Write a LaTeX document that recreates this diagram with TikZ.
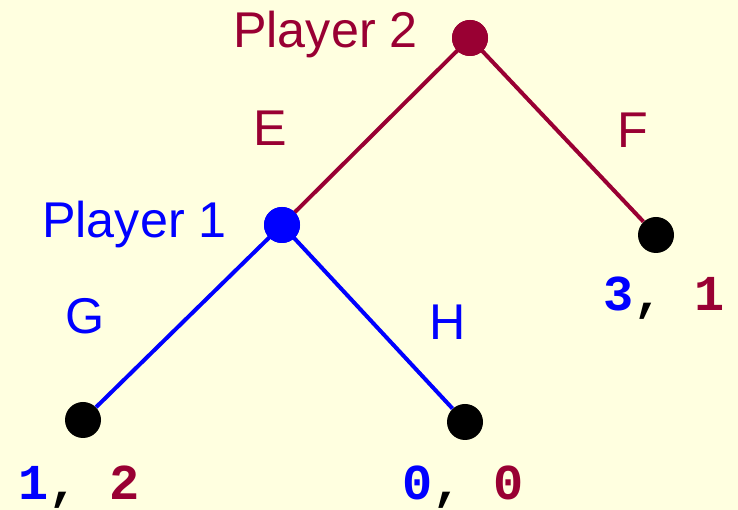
\documentclass[tikz,border=0pt]{standalone}
\usepackage{fontspec}
\setmainfont{Liberation Sans}
\setmonofont{Liberation Mono}
\definecolor{MBlue}{HTML}{0000FF}
\definecolor{MRed}{HTML}{990033}
\definecolor{MBg}{HTML}{FFFFE0}

\begin{document}
\begin{tikzpicture}[font=\fontsize{28.6}{34}\selectfont,
	dot/.style={circle, fill, inner sep=0pt, minimum size=0.72cm},
	pay/.style={anchor=base, font=\fontsize{28.6}{34}\selectfont\ttfamily\bfseries}]
			\fill[MBg] (0,0) rectangle (14.76,10.2);
			\useasboundingbox (0,0) rectangle (14.76,10.2);
			
			\node[dot, MRed] (p2) at (9.40,9.44) {};
			\node[dot, MBlue] (p1) at (5.64,5.70) {};
			\node[dot, black] (f) at (13.12,5.50) {};
			\node[dot, black] (g) at (1.66,1.80) {};
			\node[dot, black] (h) at (9.30,1.76) {};
			
			\draw[MRed, line width=0.08cm] (p2.center) -- (p1.center);
			\draw[MRed, line width=0.08cm] (p2.center) -- (f);
			\draw[MBlue, line width=0.08cm] (p1.center) -- (g);
			\draw[MBlue, line width=0.08cm] (p1.center) -- (h);
			\node[dot, MRed] at (p2) {};
			\node[dot, MBlue] at (p1) {};
			
			\node[MRed, anchor=base] (p2lab) at (6.51,9.24) {Player 2};
			\node[MBlue, anchor=base] (p1lab) at (2.69,5.44) {Player 1};
			\node[MRed, anchor=base] (e) at (5.40,7.28) {E};
			\node[MRed, anchor=base] (flab) at (12.66,7.24) {F};
			\node[MBlue, anchor=base] (glab) at (1.70,3.52) {G};
			\node[MBlue, anchor=base] (hlab) at (8.96,3.40) {H};
			
			\node[pay] (payg) at (1.58,0.20) {\textcolor{MBlue}{1}, \textcolor{MRed}{2}};
			\node[pay] (payh) at (9.26,0.20) {\textcolor{MBlue}{0}, \textcolor{MRed}{0}};
			\node[pay] (payf) at (13.28,3.98) {\textcolor{MBlue}{3}, \textcolor{MRed}{1}};
		\end{tikzpicture}
\end{document}
